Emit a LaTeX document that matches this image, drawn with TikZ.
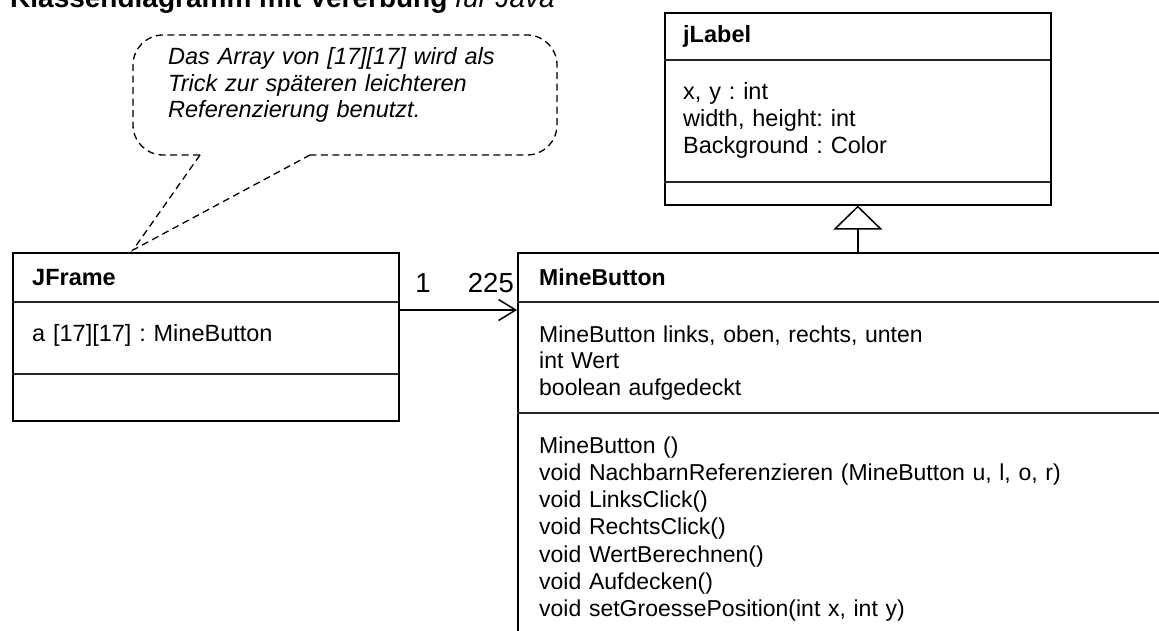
\documentclass[tikz,border=0pt]{standalone}
\usepackage{fontspec}
\setmainfont{Liberation Sans}
\usetikzlibrary{arrows.meta}
\frenchspacing
\begin{document}
\begin{tikzpicture}[x=1pt,y=-1pt,
  umlbox/.style={draw, line width=1.6pt, inner sep=0pt, anchor=north west},
  seplin/.style={line width=1.3pt, draw=black!85},
  bigtxt/.style={anchor=base west, inner sep=0pt, text width=380pt, align=left, font=\fontsize{23.5}{26.7}\selectfont},
  mbtxt/.style={anchor=base west, inner sep=0pt, text width=600pt, align=left, font=\fontsize{23}{27.3}\selectfont},
  attrtxt/.style={mbtxt, font=\fontsize{23}{26.7}\selectfont},
  multlbl/.style={inner sep=0pt, font=\fontsize{27.5}{30}\selectfont},
  notelin/.style={line width=1.3pt, dash pattern=on 7pt off 4.5pt},
  conn/.style={line width=1.5pt}
]
\useasboundingbox (0,0) rectangle (1159,631);

% title (partly cut off at the top, as in the reference)
\node[anchor=base west, inner sep=0pt, font=\fontsize{28}{30}\selectfont] (title) at (10,8)
  {\textbf{Klassendiagramm mit Vererbung} \textit{für Java}};

% JFrame
\node[umlbox, minimum width=386pt, minimum height=168pt] (jframe) at (12,252) {};
\draw[seplin] (12,302) -- (398,302);
\draw[seplin] (12,374) -- (398,374);
\node[bigtxt] (jframeName) at (32,285) {\textbf{JFrame}};
\node[bigtxt] (jframeAttr) at (32,341) {a [17][17] : MineButton};

% jLabel
\node[umlbox, minimum width=386pt, minimum height=192pt] (jlabel) at (664,12) {};
\draw[seplin] (664,60) -- (1050,60);
\draw[seplin] (664,182) -- (1050,182);
\node[bigtxt] (jlabelName) at (683,43) {\textbf{jLabel}};
\node[bigtxt] (jlabelAttr) at (683,100) {x, y : int\\width, height: int\\Background : Color};

% MineButton (runs past the right and bottom edges)
\node[umlbox, minimum width=700pt, minimum height=450pt] (mine) at (517,252) {};
\draw[seplin] (517,302) -- (1217,302);
\draw[seplin] (517,413) -- (1217,413);
\node[mbtxt] (mineName) at (539,285) {\textbf{MineButton}};
\node[attrtxt] (mineAttr) at (539,342) {MineButton links, oben, rechts, unten\\int Wert\\boolean aufgedeckt};
\node[mbtxt] (mineOps) at (539,453) {MineButton ()\\void NachbarnReferenzieren (MineButton u, l, o, r)\\void LinksClick()\\void RechtsClick()\\void WertBerechnen()\\void Aufdecken()\\void setGroessePosition(int x, int y)};

% association
\draw[conn, -{Straight Barb[length=17pt, width=21pt, line width=1.5pt]}] (jframe.east |- 0,310) -- (mine.west |- 0,310);
\node[multlbl, anchor=base] (m1) at (423,292) {1};
\node[multlbl, anchor=base east] (m225) at (514,292) {225};

% inheritance
\draw[conn, -{Triangle[open, length=24pt, width=49pt, line width=1.5pt]}] (jlabel.south |- mine.north) -- (jlabel.south);

% note bubble
\coordinate (tip) at (133,250);
\draw[notelin, rounded corners=30pt] (200,155) -- (133,155) -- (133,35) -- (557,35) -- (557,155) -- (310,155);
\draw[notelin] (200,155) -- (tip) -- (310,155);
\node[bigtxt, font=\fontsize{23.5}{26.5}\selectfont\itshape] (note) at (168,65)
  {Das Array von [17][17] wird als\\Trick zur späteren leichteren\\Referenzierung benutzt.};
\end{tikzpicture}
\end{document}
